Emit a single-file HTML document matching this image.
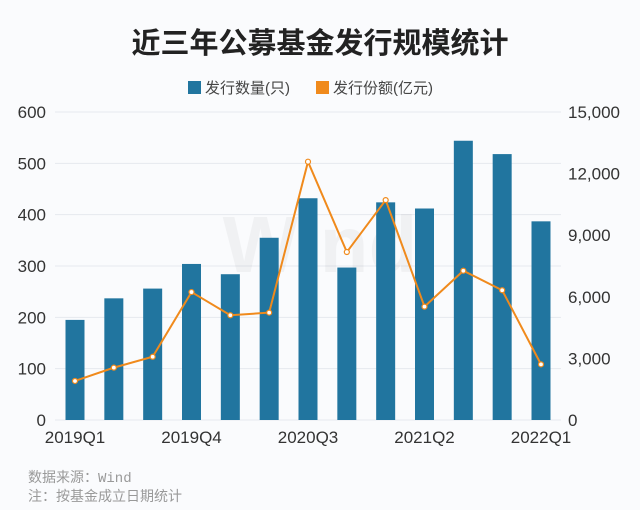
<!DOCTYPE html>
<html><head><meta charset="utf-8"><style>
body{margin:0;background:#fafbfd;}
#wrap{position:relative;width:640px;height:510px;background:#fafbfd;overflow:hidden;font-family:"Liberation Sans","Noto Sans CJK SC",sans-serif;}
</style></head><body>
<div id="wrap">
<svg id="chart" width="640" height="510"></svg>
</div>
<script>
const categories=["2019Q1","2019Q2","2019Q3","2019Q4","2020Q1","2020Q2","2020Q3","2020Q4","2021Q1","2021Q2","2021Q3","2021Q4","2022Q1"];
const countValues=[195,237,256,304,284,355,432,297,424,412,544,518,387];
const amountValues=[1900,2550,3080,6230,5100,5230,12580,8180,10710,5520,7270,6320,2710];
const leftTicks=[0,100,200,300,400,500,600];
const rightTicks=[0,3000,6000,9000,12000,15000];
const rightTickLabels=["0","3,000","6,000","9,000","12,000","15,000"];
const xLabelIdx=[0,3,6,9,12];

const NS="http://www.w3.org/2000/svg";
const svg=document.getElementById('chart');
function el(t,a,txt){const e=document.createElementNS(NS,t);for(const k in a)e.setAttribute(k,a[k]);if(txt!==undefined)e.textContent=txt;svg.appendChild(e);return e;}
const y0=420,y1=112,x0=75,step=(541-75)/12;
const yL=v=>y0-(v/600)*(y0-y1);
const yR=v=>y0-(v/15000)*(y0-y1);
const xC=i=>x0+i*step;

let e=el('text',{x:320,y:53,'text-anchor':'middle','font-size':29,'font-weight':'bold',fill:'#222'},'近三年公募基金发行规模统计');


e=el('rect',{x:188,y:81,width:13,height:13,fill:'#21759f'});

e=el('text',{x:205,y:93,'font-size':15,fill:'#444'},'发行数量(只)');

e=el('rect',{x:316,y:81,width:13,height:13,fill:'#f08a1c'});

e=el('text',{x:333,y:93,'font-size':15,fill:'#444'},'发行份额(亿元)');


leftTicks.forEach(v=>{
  const y=yL(v);
  let g=el('line',{x1:55,x2:561,y1:y,y2:y,stroke:'#e6e9ee','stroke-width':1});
  
  let t=el('text',{x:46,y:y+6,'text-anchor':'end','font-size':17,fill:'#333'},String(v));
  
});
rightTicks.forEach((v,i)=>{
  let t=el('text',{x:568,y:yR(v)+6,'font-size':17,fill:'#333'},rightTickLabels[i]);
  
});

e=el('text',{x:320,y:272,'text-anchor':'middle','font-size':80,'font-weight':'bold',fill:'#000','fill-opacity':0.04},'Wind');


countValues.forEach((v,i)=>{
  let r=el('rect',{x:xC(i)-9.5,y:yL(v),width:19,height:y0-yL(v),fill:'#21759f'});
  
});
xLabelIdx.forEach(i=>{
  let t=el('text',{x:xC(i),y:443,'text-anchor':'middle','font-size':17,fill:'#333'},categories[i]);
  
});
const pts=amountValues.map((v,i)=>xC(i)+','+yR(v)).join(' ');
e=el('polyline',{points:pts,fill:'none',stroke:'#f08a1c','stroke-width':2});

amountValues.forEach((v,i)=>{
  let c=el('circle',{cx:xC(i),cy:yR(v),r:2.5,fill:'#fff',stroke:'#f08a1c','stroke-width':1.2});
  
});

e=el('text',{x:28,y:482,'font-size':14,fill:'#999','font-family':'"Liberation Mono","Noto Sans CJK SC",monospace'},'数据来源：Wind');

e=el('text',{x:28,y:501,'font-size':14,fill:'#999'},'注：按基金成立日期统计');

</script>
</body></html>
